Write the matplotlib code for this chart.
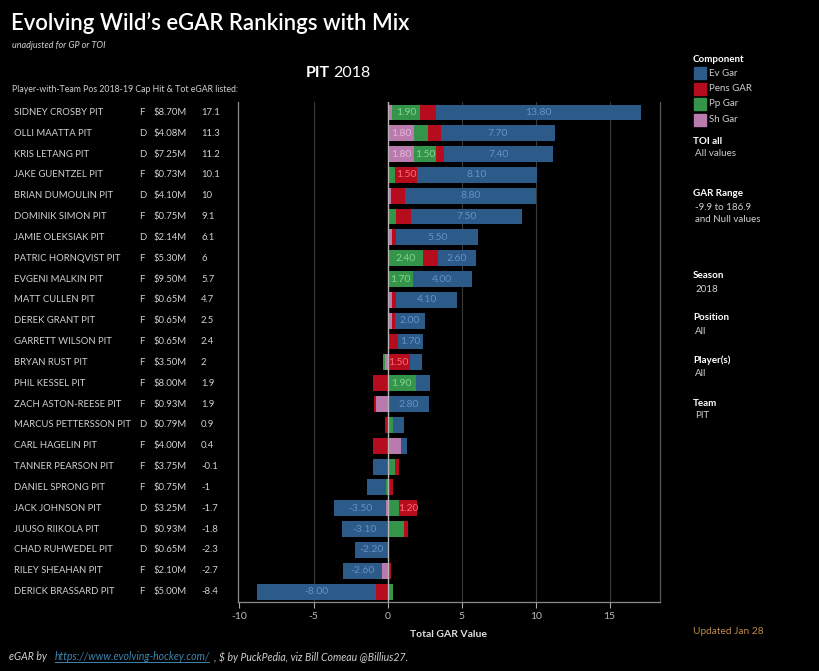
import matplotlib
matplotlib.use("Agg")
import matplotlib.pyplot as plt
import numpy as np
from matplotlib.patches import Rectangle

plt.rcParams['font.family'] = ['Lato', 'DejaVu Sans']

players = ["SIDNEY CROSBY PIT", "OLLI MAATTA PIT", "KRIS LETANG PIT", "JAKE GUENTZEL PIT",
           "BRIAN DUMOULIN PIT", "DOMINIK SIMON PIT", "JAMIE OLEKSIAK PIT", "PATRIC HORNQVIST PIT",
           "EVGENI MALKIN PIT", "MATT CULLEN PIT", "DEREK GRANT PIT", "GARRETT WILSON PIT",
           "BRYAN RUST PIT", "PHIL KESSEL PIT", "ZACH ASTON-REESE PIT", "MARCUS PETTERSSON PIT",
           "CARL HAGELIN PIT", "TANNER PEARSON PIT", "DANIEL SPRONG PIT", "JACK JOHNSON PIT",
           "JUUSO RIIKOLA PIT", "CHAD RUHWEDEL PIT", "RILEY SHEAHAN PIT", "DERICK BRASSARD PIT"]
positions = ["F", "D", "D", "F", "D", "F", "D", "F", "F", "F", "F", "F",
             "F", "F", "F", "D", "F", "F", "F", "D", "D", "D", "F", "F"]
cap_hits = ["$8.70M", "$4.08M", "$7.25M", "$0.73M", "$4.10M", "$0.75M", "$2.14M", "$5.30M",
            "$9.50M", "$0.65M", "$0.65M", "$0.65M", "$3.50M", "$8.00M", "$0.93M", "$0.79M",
            "$4.00M", "$3.75M", "$0.75M", "$3.25M", "$0.93M", "$0.65M", "$2.10M", "$5.00M"]
tot_egar = ["17.1", "11.3", "11.2", "10.1", "10", "9.1", "6.1", "6", "5.7", "4.7", "2.5", "2.4",
            "2", "1.9", "1.9", "0.9", "0.4", "-0.1", "-1", "-1.7", "-1.8", "-2.3", "-2.7", "-8.4"]

# components (stack order outward from zero: Sh, Pp, Pens, Ev)
sh_gar = [0.3, 1.8, 1.8, 0.0, 0.2, 0.0, 0.3, 0.0, 0.0, 0.3, 0.3, 0.1,
          -0.2, 0.0, -0.8, 0.0, 0.9, 0.0, 0.0, -0.1, 0.0, 0.0, -0.4, 0.0]
pp_gar = [1.9, 0.9, 1.5, 0.5, 0.0, 0.6, 0.0, 2.4, 1.7, 0.0, 0.0, 0.0,
          -0.1, 1.9, 0.0, 0.4, 0.0, 0.5, -0.1, 0.8, 1.1, 0.0, 0.0, 0.4]
pens_gar = [1.1, 0.9, 0.5, 1.5, 1.0, 1.0, 0.3, 1.0, 0.0, 0.3, 0.2, 0.6,
            1.5, -1.0, -0.1, -0.2, -1.0, 0.3, 0.4, 1.2, 0.3, 0.05, 0.2, -0.8]
ev_gar = [13.8, 7.7, 7.4, 8.1, 8.8, 7.5, 5.5, 2.6, 4.0, 4.1, 2.0, 1.7,
          0.8, 1.0, 2.8, 0.7, 0.4, -1.0, -1.3, -3.5, -3.1, -2.2, -2.6, -8.0]

components = [("Sh Gar", sh_gar, "#b97aae", "#e6b7da"),
              ("Pp Gar", pp_gar, "#34954a", "#86d48f"),
              ("Pens GAR", pens_gar, "#b50d1e", "#ff6b7a"),
              ("Ev Gar", ev_gar, "#2c5a89", "#6592c8")]

fig = plt.figure(figsize=(8.19, 6.71), dpi=100, facecolor="black")
ax = fig.add_axes([238 / 819, 1 - 602 / 671, (660 - 238) / 819, 500 / 671])
ax.set_facecolor("black")

n = len(players)
y = np.arange(n)
pos_left = np.zeros(n)
neg_left = np.zeros(n)
for name, vals, col, lab_col in components:
    vals = np.array(vals)
    left = np.where(vals >= 0, pos_left, neg_left)
    ax.barh(y, vals, left=left, height=0.76, color=col, edgecolor="none", zorder=3)
    for i, v in enumerate(vals):
        # labels only where the text fits (minus sign needs extra room)
        if v >= 1.2 or v <= -1.5:
            ax.text(left[i] + v / 2, i, "%.2f" % v, color=lab_col, fontsize=7.5,
                    ha="center", va="center", zorder=4)
    pos_left = np.where(vals >= 0, pos_left + vals, pos_left)
    neg_left = np.where(vals < 0, neg_left + vals, neg_left)

ax.set_xlim(-10.1, 18.4)
ax.set_ylim(n - 0.5, -0.5)
ax.set_yticks([])
ax.set_xticks([-10, -5, 0, 5, 10, 15])
ax.set_xticklabels(["-10", "-5", "0", "5", "10", "15"])
ax.tick_params(axis="x", colors="#aaaaaa", labelsize=7.5, length=4, width=0.8,
               labelcolor="#bbbbbb")
for x in [-5, 5, 10, 15]:
    ax.axvline(x, color="#3a3a3a", lw=0.8, zorder=1)
ax.axvline(0, color="#b5b5b5", lw=1.0, zorder=5)
for s in ["left", "bottom", "right"]:
    ax.spines[s].set_color("#8a8a8a")
    ax.spines[s].set_linewidth(0.9)
ax.spines["right"].set_color("#555555")
ax.spines["top"].set_visible(False)
ax.set_xlabel("Total GAR Value", color="#e0e0e0", fontsize=7.5, fontweight="bold", labelpad=6)

# left-hand table
row_y = [ax.transData.transform((0, i))[1] / fig.bbox.height for i in y]
for i in range(n):
    fig.text(14 / 819, row_y[i], players[i], color="#d0d0d0", fontsize=6.8, va="center")
    fig.text(139 / 819, row_y[i], positions[i], color="#d0d0d0", fontsize=6.8, va="center")
    fig.text(154 / 819, row_y[i], cap_hits[i], color="#d0d0d0", fontsize=6.8, va="center")
    fig.text(201 / 819, row_y[i], tot_egar[i], color="#d0d0d0", fontsize=6.8, va="center")

# titles
fig.text(11 / 819, 1 - 23 / 671, "Evolving Wild\u2019s eGAR Rankings with Mix", color="white",
         fontsize=15.9, fontweight="semibold", va="center")
fig.text(12 / 819, 1 - 45 / 671, "unadjusted for GP or TOI", color="#d0d0d0", fontsize=6.5,
         style="italic", va="center")
fig.text(330 / 819, 1 - 73 / 671, "PIT", color="white", fontsize=11.5, fontweight="bold",
         va="center", ha="right")
fig.text(333 / 819, 1 - 73 / 671, "2018", color="white", fontsize=11.5, va="center", ha="left")
fig.text(12 / 819, 1 - 89 / 671, "Player-with-Team Pos 2018-19 Cap Hit & Tot eGAR listed:",
         color="#d0d0d0", fontsize=6.3, va="center")

# legend / filter panel
lx = 693 / 819
fig.text(lx, 1 - 60 / 671, "Component", color="white", fontsize=7.1, fontweight="bold", va="center")
leg_items = [("Ev Gar", "#2c5a89"), ("Pens GAR", "#b50d1e"), ("Pp Gar", "#34954a"), ("Sh Gar", "#b97aae")]
for k, (lab, col) in enumerate(leg_items):
    yc = 73 + k * 15.5
    fig.patches.append(Rectangle((694 / 819, 1 - (yc + 6) / 671), 12 / 819, 12 / 671,
                                 color=col, transform=fig.transFigure, figure=fig))
    fig.text(709 / 819, 1 - yc / 671, lab, color="#d0d0d0", fontsize=7.0, va="center")

panel = [("TOI all", 141, True), ("All values", 154, False),
         ("GAR Range", 194, True), ("-9.9 to 186.9", 207, False), ("and Null values", 219, False),
         ("Season", 276, True), ("2018", 289, False),
         ("Position", 318, True), ("All", 331, False),
         ("Player(s)", 360, True), ("All", 373, False),
         ("Team", 403, True), ("PIT", 415, False)]
for txt, yy, bold in panel:
    if bold:
        fig.text(lx, 1 - yy / 671, txt, color="white", fontsize=7.1, fontweight="bold", va="center")
    else:
        fig.text(lx + 2 / 819, 1 - yy / 671, txt, color="#d0d0d0", fontsize=7.0, va="center")

fig.text(693 / 819, 1 - 632 / 671, "Updated Jan 28", color="#c08a4e", fontsize=7.3, va="center")

# footer
fig.text(9 / 819, 1 - 657 / 671, "eGAR by", color="#d0d0d0", fontsize=7.6, style="italic", va="center")
fig.text(55 / 819, 1 - 657 / 671, "https://www.evolving-hockey.com/", color="#3f86b0", fontsize=7.6,
         style="italic", va="center")
fig.lines.append(plt.Line2D([55 / 819, 209 / 819], [1 - 662 / 671, 1 - 662 / 671],
                            color="#3f86b0", lw=0.7, transform=fig.transFigure))
fig.text(214 / 819, 1 - 657 / 671, ", $ by PuckPedia, viz Bill Comeau @Billius27.", color="#d0d0d0",
         fontsize=7.6, style="italic", va="center")

fig.savefig("out.png", dpi=100, facecolor="black")
